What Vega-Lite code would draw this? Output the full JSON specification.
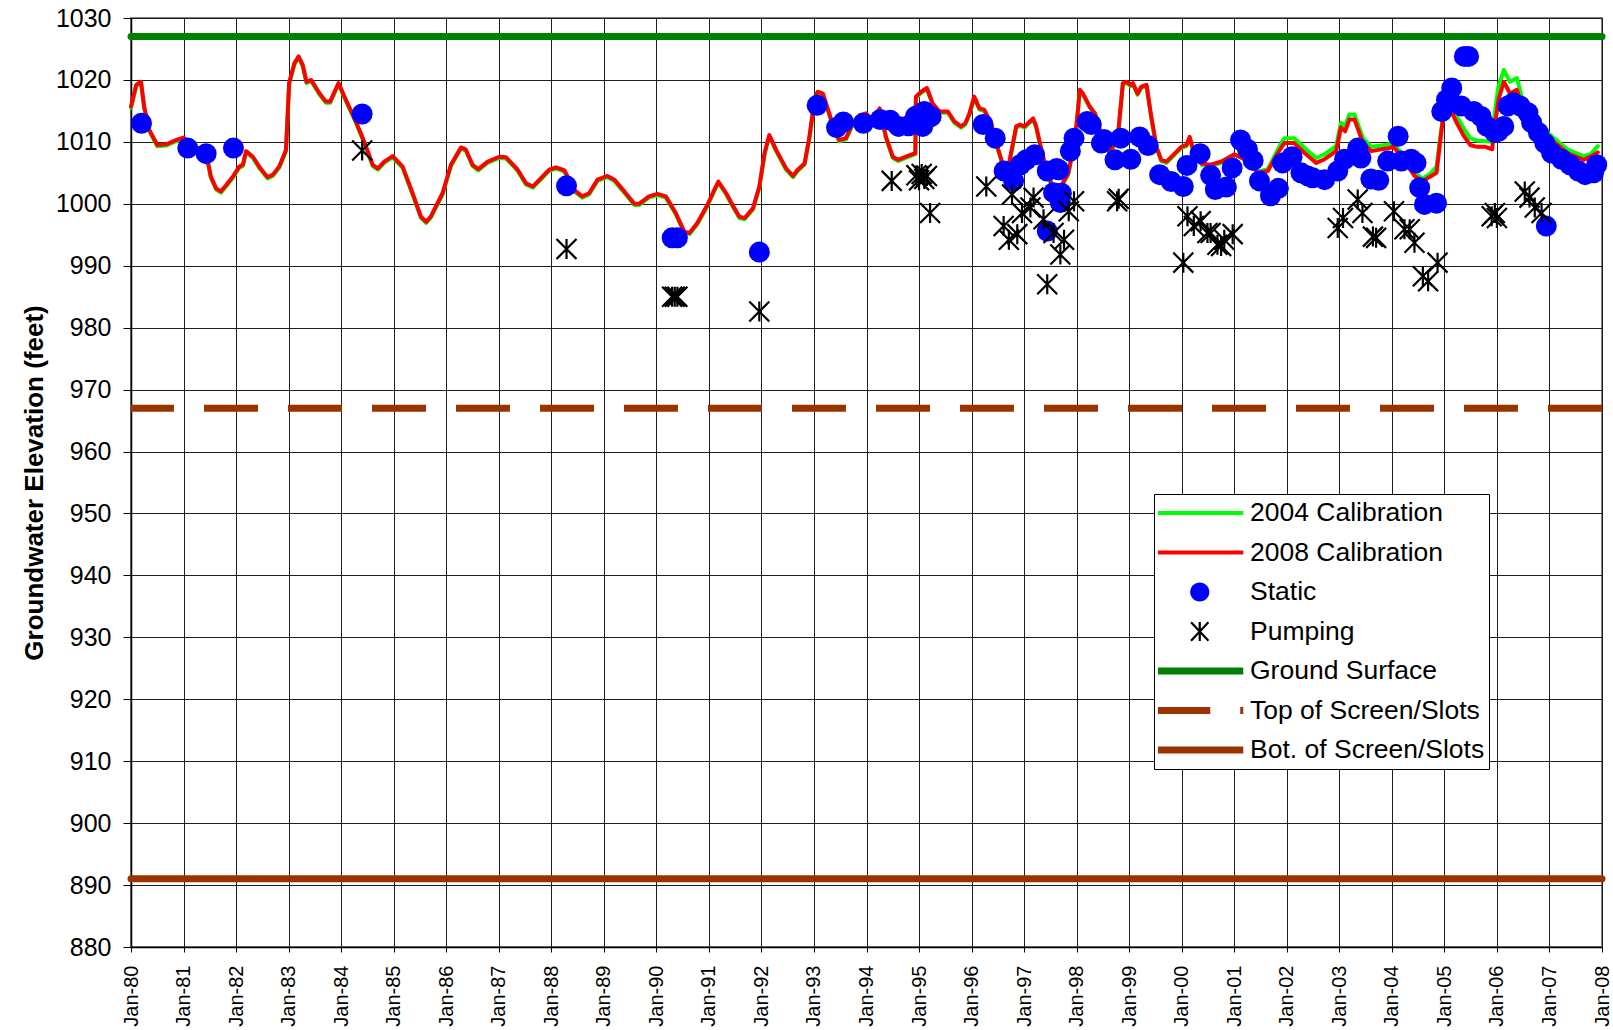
{
  "$schema": "https://vega.github.io/schema/vega-lite/v6.json",
  "width": 1471,
  "height": 929,
  "autosize": {"type": "none"},
  "padding": {"left": 131, "top": 18, "right": 11, "bottom": 83},
  "background": "white",
  "config": {
    "font": "Liberation Sans",
    "view": {"stroke": "#808080", "strokeWidth": 2},
    "axis": {
      "labelColor": "black", "titleColor": "black", "domainColor": "black", "domainWidth": 1.5,
      "tickColor": "black", "gridColor": "#1e1e1e", "gridOpacity": 1, "gridWidth": 1,
      "labelFont": "Liberation Sans", "titleFont": "Liberation Sans"
    }
  },
  "datasets": {
    "cal": [
      {"t":1980.00,"2004 Calibration":1015.5,"2008 Calibration":1015.7},
      {"t":1980.10,"2004 Calibration":1019.0,"2008 Calibration":1019.2},
      {"t":1980.19,"2004 Calibration":1019.5,"2008 Calibration":1019.7},
      {"t":1980.25,"2004 Calibration":1015.5,"2008 Calibration":1015.7},
      {"t":1980.35,"2004 Calibration":1011.7,"2008 Calibration":1011.9},
      {"t":1980.50,"2004 Calibration":1009.3,"2008 Calibration":1009.5},
      {"t":1980.67,"2004 Calibration":1009.4,"2008 Calibration":1009.6},
      {"t":1980.86,"2004 Calibration":1010.1,"2008 Calibration":1010.3},
      {"t":1981.00,"2004 Calibration":1010.5,"2008 Calibration":1010.7},
      {"t":1981.17,"2004 Calibration":1009.3,"2008 Calibration":1009.5},
      {"t":1981.43,"2004 Calibration":1008.0,"2008 Calibration":1008.2},
      {"t":1981.52,"2004 Calibration":1004.2,"2008 Calibration":1004.4},
      {"t":1981.62,"2004 Calibration":1002.3,"2008 Calibration":1002.5},
      {"t":1981.71,"2004 Calibration":1001.8,"2008 Calibration":1002.0},
      {"t":1981.81,"2004 Calibration":1002.8,"2008 Calibration":1003.0},
      {"t":1981.94,"2004 Calibration":1004.2,"2008 Calibration":1004.4},
      {"t":1982.06,"2004 Calibration":1005.8,"2008 Calibration":1006.0},
      {"t":1982.13,"2004 Calibration":1006.1,"2008 Calibration":1006.3},
      {"t":1982.19,"2004 Calibration":1008.3,"2008 Calibration":1008.5},
      {"t":1982.32,"2004 Calibration":1007.4,"2008 Calibration":1007.6},
      {"t":1982.44,"2004 Calibration":1005.8,"2008 Calibration":1006.0},
      {"t":1982.60,"2004 Calibration":1004.1,"2008 Calibration":1004.3},
      {"t":1982.70,"2004 Calibration":1004.5,"2008 Calibration":1004.7},
      {"t":1982.82,"2004 Calibration":1005.8,"2008 Calibration":1006.0},
      {"t":1982.95,"2004 Calibration":1008.5,"2008 Calibration":1008.7},
      {"t":1983.01,"2004 Calibration":1019.3,"2008 Calibration":1019.5},
      {"t":1983.11,"2004 Calibration":1022.5,"2008 Calibration":1022.7},
      {"t":1983.19,"2004 Calibration":1023.6,"2008 Calibration":1023.8},
      {"t":1983.27,"2004 Calibration":1022.2,"2008 Calibration":1022.4},
      {"t":1983.34,"2004 Calibration":1019.5,"2008 Calibration":1019.7},
      {"t":1983.43,"2004 Calibration":1019.8,"2008 Calibration":1020.0},
      {"t":1983.59,"2004 Calibration":1017.6,"2008 Calibration":1017.8},
      {"t":1983.71,"2004 Calibration":1016.3,"2008 Calibration":1016.5},
      {"t":1983.79,"2004 Calibration":1016.3,"2008 Calibration":1016.5},
      {"t":1983.95,"2004 Calibration":1019.3,"2008 Calibration":1019.5},
      {"t":1984.09,"2004 Calibration":1016.6,"2008 Calibration":1016.8},
      {"t":1984.28,"2004 Calibration":1013.1,"2008 Calibration":1013.3},
      {"t":1984.44,"2004 Calibration":1009.8,"2008 Calibration":1010.0},
      {"t":1984.60,"2004 Calibration":1006.1,"2008 Calibration":1006.3},
      {"t":1984.70,"2004 Calibration":1005.5,"2008 Calibration":1005.7},
      {"t":1984.82,"2004 Calibration":1006.6,"2008 Calibration":1006.8},
      {"t":1984.98,"2004 Calibration":1007.5,"2008 Calibration":1007.7},
      {"t":1985.17,"2004 Calibration":1005.8,"2008 Calibration":1006.0},
      {"t":1985.36,"2004 Calibration":1001.5,"2008 Calibration":1001.7},
      {"t":1985.52,"2004 Calibration":997.7,"2008 Calibration":997.9},
      {"t":1985.62,"2004 Calibration":996.9,"2008 Calibration":997.1},
      {"t":1985.71,"2004 Calibration":997.8,"2008 Calibration":998.0},
      {"t":1985.93,"2004 Calibration":1001.5,"2008 Calibration":1001.7},
      {"t":1986.09,"2004 Calibration":1006.1,"2008 Calibration":1006.3},
      {"t":1986.28,"2004 Calibration":1008.9,"2008 Calibration":1009.1},
      {"t":1986.37,"2004 Calibration":1008.6,"2008 Calibration":1008.8},
      {"t":1986.50,"2004 Calibration":1006.1,"2008 Calibration":1006.3},
      {"t":1986.61,"2004 Calibration":1005.4,"2008 Calibration":1005.6},
      {"t":1986.79,"2004 Calibration":1006.6,"2008 Calibration":1006.8},
      {"t":1987.01,"2004 Calibration":1007.4,"2008 Calibration":1007.6},
      {"t":1987.14,"2004 Calibration":1007.3,"2008 Calibration":1007.5},
      {"t":1987.36,"2004 Calibration":1005.3,"2008 Calibration":1005.5},
      {"t":1987.52,"2004 Calibration":1003.1,"2008 Calibration":1003.3},
      {"t":1987.65,"2004 Calibration":1002.6,"2008 Calibration":1002.8},
      {"t":1987.80,"2004 Calibration":1003.9,"2008 Calibration":1004.1},
      {"t":1987.96,"2004 Calibration":1005.3,"2008 Calibration":1005.5},
      {"t":1988.09,"2004 Calibration":1005.7,"2008 Calibration":1005.9},
      {"t":1988.25,"2004 Calibration":1005.2,"2008 Calibration":1005.4},
      {"t":1988.44,"2004 Calibration":1002.0,"2008 Calibration":1002.2},
      {"t":1988.59,"2004 Calibration":1001.0,"2008 Calibration":1001.2},
      {"t":1988.72,"2004 Calibration":1001.5,"2008 Calibration":1001.7},
      {"t":1988.88,"2004 Calibration":1003.7,"2008 Calibration":1003.9},
      {"t":1989.07,"2004 Calibration":1004.3,"2008 Calibration":1004.5},
      {"t":1989.20,"2004 Calibration":1003.7,"2008 Calibration":1003.9},
      {"t":1989.39,"2004 Calibration":1001.8,"2008 Calibration":1002.0},
      {"t":1989.58,"2004 Calibration":999.8,"2008 Calibration":1000.0},
      {"t":1989.67,"2004 Calibration":999.8,"2008 Calibration":1000.0},
      {"t":1989.86,"2004 Calibration":1001.0,"2008 Calibration":1001.2},
      {"t":1990.02,"2004 Calibration":1001.4,"2008 Calibration":1001.6},
      {"t":1990.18,"2004 Calibration":1001.0,"2008 Calibration":1001.2},
      {"t":1990.37,"2004 Calibration":998.3,"2008 Calibration":998.5},
      {"t":1990.53,"2004 Calibration":995.3,"2008 Calibration":995.5},
      {"t":1990.63,"2004 Calibration":995.1,"2008 Calibration":995.3},
      {"t":1990.78,"2004 Calibration":996.7,"2008 Calibration":996.9},
      {"t":1990.97,"2004 Calibration":999.6,"2008 Calibration":999.8},
      {"t":1991.10,"2004 Calibration":1002.0,"2008 Calibration":1002.2},
      {"t":1991.18,"2004 Calibration":1003.4,"2008 Calibration":1003.6},
      {"t":1991.33,"2004 Calibration":1001.5,"2008 Calibration":1001.7},
      {"t":1991.45,"2004 Calibration":999.6,"2008 Calibration":999.8},
      {"t":1991.58,"2004 Calibration":997.7,"2008 Calibration":997.9},
      {"t":1991.68,"2004 Calibration":997.5,"2008 Calibration":997.7},
      {"t":1991.84,"2004 Calibration":999.1,"2008 Calibration":999.3},
      {"t":1991.96,"2004 Calibration":1002.6,"2008 Calibration":1002.8},
      {"t":1992.06,"2004 Calibration":1008.0,"2008 Calibration":1008.2},
      {"t":1992.15,"2004 Calibration":1010.9,"2008 Calibration":1011.1},
      {"t":1992.28,"2004 Calibration":1008.5,"2008 Calibration":1008.7},
      {"t":1992.47,"2004 Calibration":1005.5,"2008 Calibration":1005.7},
      {"t":1992.60,"2004 Calibration":1004.3,"2008 Calibration":1004.5},
      {"t":1992.69,"2004 Calibration":1005.3,"2008 Calibration":1005.5},
      {"t":1992.82,"2004 Calibration":1006.3,"2008 Calibration":1006.5},
      {"t":1992.91,"2004 Calibration":1010.4,"2008 Calibration":1010.6},
      {"t":1993.01,"2004 Calibration":1016.6,"2008 Calibration":1016.8},
      {"t":1993.07,"2004 Calibration":1017.9,"2008 Calibration":1018.1},
      {"t":1993.17,"2004 Calibration":1017.6,"2008 Calibration":1017.8},
      {"t":1993.26,"2004 Calibration":1015.2,"2008 Calibration":1015.4},
      {"t":1993.39,"2004 Calibration":1011.7,"2008 Calibration":1011.9},
      {"t":1993.48,"2004 Calibration":1010.1,"2008 Calibration":1010.3},
      {"t":1993.61,"2004 Calibration":1010.4,"2008 Calibration":1010.6},
      {"t":1993.74,"2004 Calibration":1012.8,"2008 Calibration":1013.0},
      {"t":1993.87,"2004 Calibration":1014.1,"2008 Calibration":1014.3},
      {"t":1993.99,"2004 Calibration":1014.4,"2008 Calibration":1014.6},
      {"t":1994.12,"2004 Calibration":1013.3,"2008 Calibration":1013.5},
      {"t":1994.25,"2004 Calibration":1015.2,"2008 Calibration":1015.4},
      {"t":1994.37,"2004 Calibration":1010.6,"2008 Calibration":1010.8},
      {"t":1994.50,"2004 Calibration":1007.4,"2008 Calibration":1007.6},
      {"t":1994.60,"2004 Calibration":1006.9,"2008 Calibration":1007.1},
      {"t":1994.75,"2004 Calibration":1007.4,"2008 Calibration":1007.6},
      {"t":1994.93,"2004 Calibration":1008.0,"2008 Calibration":1008.2},
      {"t":1994.94,"2004 Calibration":1017.1,"2008 Calibration":1017.3},
      {"t":1995.04,"2004 Calibration":1017.9,"2008 Calibration":1018.1},
      {"t":1995.15,"2004 Calibration":1018.5,"2008 Calibration":1018.7},
      {"t":1995.26,"2004 Calibration":1016.0,"2008 Calibration":1016.2},
      {"t":1995.39,"2004 Calibration":1014.7,"2008 Calibration":1014.9},
      {"t":1995.55,"2004 Calibration":1014.7,"2008 Calibration":1014.9},
      {"t":1995.67,"2004 Calibration":1013.1,"2008 Calibration":1013.3},
      {"t":1995.80,"2004 Calibration":1012.3,"2008 Calibration":1012.5},
      {"t":1995.88,"2004 Calibration":1012.8,"2008 Calibration":1013.0},
      {"t":1995.96,"2004 Calibration":1014.4,"2008 Calibration":1014.6},
      {"t":1996.05,"2004 Calibration":1017.1,"2008 Calibration":1017.3},
      {"t":1996.15,"2004 Calibration":1015.2,"2008 Calibration":1015.4},
      {"t":1996.24,"2004 Calibration":1015.0,"2008 Calibration":1015.2},
      {"t":1996.37,"2004 Calibration":1012.8,"2008 Calibration":1013.0},
      {"t":1996.47,"2004 Calibration":1009.6,"2008 Calibration":1009.8},
      {"t":1996.59,"2004 Calibration":1006.3,"2008 Calibration":1006.5},
      {"t":1996.72,"2004 Calibration":1006.6,"2008 Calibration":1006.8},
      {"t":1996.85,"2004 Calibration":1012.3,"2008 Calibration":1012.5},
      {"t":1996.92,"2004 Calibration":1012.6,"2008 Calibration":1012.8},
      {"t":1997.01,"2004 Calibration":1012.3,"2008 Calibration":1012.5},
      {"t":1997.11,"2004 Calibration":1013.1,"2008 Calibration":1013.3},
      {"t":1997.17,"2004 Calibration":1013.6,"2008 Calibration":1013.8},
      {"t":1997.23,"2004 Calibration":1012.3,"2008 Calibration":1012.5},
      {"t":1997.33,"2004 Calibration":1008.5,"2008 Calibration":1008.7},
      {"t":1997.46,"2004 Calibration":1004.2,"2008 Calibration":1004.4},
      {"t":1997.55,"2004 Calibration":1002.6,"2008 Calibration":1002.8},
      {"t":1997.71,"2004 Calibration":1002.8,"2008 Calibration":1003.0},
      {"t":1997.84,"2004 Calibration":1004.7,"2008 Calibration":1004.9},
      {"t":1997.93,"2004 Calibration":1008.5,"2008 Calibration":1008.7},
      {"t":1998.00,"2004 Calibration":1012.8,"2008 Calibration":1013.0},
      {"t":1998.06,"2004 Calibration":1018.2,"2008 Calibration":1018.4},
      {"t":1998.12,"2004 Calibration":1017.6,"2008 Calibration":1017.8},
      {"t":1998.25,"2004 Calibration":1015.5,"2008 Calibration":1015.7},
      {"t":1998.35,"2004 Calibration":1014.4,"2008 Calibration":1014.6},
      {"t":1998.47,"2004 Calibration":1010.9,"2008 Calibration":1011.1},
      {"t":1998.60,"2004 Calibration":1008.5,"2008 Calibration":1008.7},
      {"t":1998.69,"2004 Calibration":1009.0,"2008 Calibration":1009.2},
      {"t":1998.79,"2004 Calibration":1011.2,"2008 Calibration":1011.4},
      {"t":1998.88,"2004 Calibration":1019.3,"2008 Calibration":1019.5},
      {"t":1998.95,"2004 Calibration":1019.5,"2008 Calibration":1019.7},
      {"t":1999.03,"2004 Calibration":1019.0,"2008 Calibration":1019.2},
      {"t":1999.07,"2004 Calibration":1019.3,"2008 Calibration":1019.5},
      {"t":1999.16,"2004 Calibration":1017.6,"2008 Calibration":1017.8},
      {"t":1999.23,"2004 Calibration":1018.7,"2008 Calibration":1018.9},
      {"t":1999.33,"2004 Calibration":1019.0,"2008 Calibration":1019.2},
      {"t":1999.42,"2004 Calibration":1013.9,"2008 Calibration":1014.1},
      {"t":1999.52,"2004 Calibration":1009.0,"2008 Calibration":1009.2},
      {"t":1999.61,"2004 Calibration":1006.9,"2008 Calibration":1007.1},
      {"t":1999.71,"2004 Calibration":1006.6,"2008 Calibration":1006.8},
      {"t":1999.84,"2004 Calibration":1007.7,"2008 Calibration":1007.9},
      {"t":1999.99,"2004 Calibration":1009.0,"2008 Calibration":1009.2},
      {"t":2000.09,"2004 Calibration":1009.3,"2008 Calibration":1009.5},
      {"t":2000.15,"2004 Calibration":1010.6,"2008 Calibration":1010.8},
      {"t":2000.22,"2004 Calibration":1008.5,"2008 Calibration":1008.7},
      {"t":2000.38,"2004 Calibration":1006.3,"2008 Calibration":1006.5},
      {"t":2000.55,"2004 Calibration":1006.1,"2008 Calibration":1006.3},
      {"t":2000.75,"2004 Calibration":1006.6,"2008 Calibration":1006.8},
      {"t":2001.00,"2004 Calibration":1007.9,"2008 Calibration":1008.0},
      {"t":2001.25,"2004 Calibration":1007.0,"2008 Calibration":1007.0},
      {"t":2001.45,"2004 Calibration":1005.2,"2008 Calibration":1005.0},
      {"t":2001.64,"2004 Calibration":1005.6,"2008 Calibration":1005.3},
      {"t":2001.83,"2004 Calibration":1008.8,"2008 Calibration":1008.2},
      {"t":2001.95,"2004 Calibration":1010.6,"2008 Calibration":1009.8},
      {"t":2002.14,"2004 Calibration":1010.6,"2008 Calibration":1009.8},
      {"t":2002.34,"2004 Calibration":1009.0,"2008 Calibration":1008.2},
      {"t":2002.56,"2004 Calibration":1007.4,"2008 Calibration":1006.6},
      {"t":2002.72,"2004 Calibration":1008.0,"2008 Calibration":1007.2},
      {"t":2002.94,"2004 Calibration":1009.3,"2008 Calibration":1008.5},
      {"t":2003.03,"2004 Calibration":1013.1,"2008 Calibration":1012.3},
      {"t":2003.11,"2004 Calibration":1012.6,"2008 Calibration":1011.7},
      {"t":2003.19,"2004 Calibration":1014.4,"2008 Calibration":1013.6},
      {"t":2003.29,"2004 Calibration":1014.4,"2008 Calibration":1013.6},
      {"t":2003.45,"2004 Calibration":1010.6,"2008 Calibration":1009.8},
      {"t":2003.61,"2004 Calibration":1009.2,"2008 Calibration":1008.5},
      {"t":2003.80,"2004 Calibration":1009.4,"2008 Calibration":1008.8},
      {"t":2003.96,"2004 Calibration":1009.6,"2008 Calibration":1009.0},
      {"t":2004.02,"2004 Calibration":1009.8,"2008 Calibration":1009.3},
      {"t":2004.18,"2004 Calibration":1008.2,"2008 Calibration":1007.7},
      {"t":2004.43,"2004 Calibration":1004.9,"2008 Calibration":1004.5},
      {"t":2004.59,"2004 Calibration":1004.1,"2008 Calibration":1003.7},
      {"t":2004.75,"2004 Calibration":1005.0,"2008 Calibration":1004.5},
      {"t":2004.85,"2004 Calibration":1006.0,"2008 Calibration":1005.0},
      {"t":2004.94,"2004 Calibration":1012.0,"2008 Calibration":1011.5},
      {"t":2004.99,"2004 Calibration":1015.0,"2008 Calibration":1014.7},
      {"t":2005.10,"2004 Calibration":1015.8,"2008 Calibration":1015.5},
      {"t":2005.24,"2004 Calibration":1014.0,"2008 Calibration":1013.0},
      {"t":2005.36,"2004 Calibration":1012.3,"2008 Calibration":1011.1},
      {"t":2005.49,"2004 Calibration":1010.6,"2008 Calibration":1009.5},
      {"t":2005.62,"2004 Calibration":1010.2,"2008 Calibration":1009.2},
      {"t":2005.78,"2004 Calibration":1010.1,"2008 Calibration":1009.2},
      {"t":2005.91,"2004 Calibration":1010.0,"2008 Calibration":1008.8},
      {"t":2005.94,"2004 Calibration":1013.5,"2008 Calibration":1011.4},
      {"t":2006.03,"2004 Calibration":1019.0,"2008 Calibration":1016.8},
      {"t":2006.13,"2004 Calibration":1021.6,"2008 Calibration":1019.7},
      {"t":2006.25,"2004 Calibration":1019.7,"2008 Calibration":1017.8},
      {"t":2006.38,"2004 Calibration":1020.3,"2008 Calibration":1018.4},
      {"t":2006.48,"2004 Calibration":1017.0,"2008 Calibration":1015.7},
      {"t":2006.60,"2004 Calibration":1015.0,"2008 Calibration":1014.0},
      {"t":2006.83,"2004 Calibration":1012.6,"2008 Calibration":1011.9},
      {"t":2007.08,"2004 Calibration":1010.6,"2008 Calibration":1010.0},
      {"t":2007.34,"2004 Calibration":1008.8,"2008 Calibration":1008.2},
      {"t":2007.65,"2004 Calibration":1007.7,"2008 Calibration":1007.1},
      {"t":2007.78,"2004 Calibration":1008.0,"2008 Calibration":1007.6},
      {"t":2007.92,"2004 Calibration":1009.3,"2008 Calibration":1008.3}
    ],
    "static": [
      {"t":1980.20,"value":1013.0},{"t":1981.08,"value":1009.0},{"t":1981.43,"value":1008.1},{"t":1981.95,"value":1009.0},
      {"t":1984.40,"value":1014.5},{"t":1988.29,"value":1002.9},{"t":1990.30,"value":994.5},{"t":1990.40,"value":994.5},
      {"t":1991.96,"value":992.2},{"t":1993.06,"value":1015.9},{"t":1993.43,"value":1012.3},{"t":1993.56,"value":1013.2},
      {"t":1993.94,"value":1013.0},{"t":1994.26,"value":1013.6},{"t":1994.45,"value":1013.5},{"t":1994.61,"value":1012.5},
      {"t":1994.80,"value":1012.6},{"t":1994.93,"value":1014.1},{"t":1994.98,"value":1014.3},{"t":1995.02,"value":1012.8},
      {"t":1995.07,"value":1012.5},{"t":1995.10,"value":1014.9},{"t":1995.18,"value":1013.9},{"t":1995.23,"value":1014.1},
      {"t":1996.22,"value":1012.8},{"t":1996.45,"value":1010.6},{"t":1996.62,"value":1005.3},{"t":1996.80,"value":1003.7},
      {"t":1996.93,"value":1006.3},{"t":1997.04,"value":1007.1},{"t":1997.20,"value":1007.9},{"t":1997.44,"value":1005.3},
      {"t":1997.62,"value":1005.7},{"t":1997.66,"value":1005.5},{"t":1997.56,"value":1001.8},{"t":1997.69,"value":1000.2},
      {"t":1997.71,"value":1001.7},{"t":1997.44,"value":995.6},{"t":1997.88,"value":1008.5},{"t":1997.95,"value":1010.6},
      {"t":1998.20,"value":1013.3},{"t":1998.28,"value":1012.8},{"t":1998.47,"value":1009.8},{"t":1998.52,"value":1010.4},
      {"t":1998.73,"value":1007.1},{"t":1998.84,"value":1010.6},{"t":1999.03,"value":1007.2},{"t":1999.20,"value":1010.8},
      {"t":1999.36,"value":1009.4},{"t":1999.58,"value":1004.7},{"t":1999.80,"value":1003.6},{"t":2000.03,"value":1002.8},
      {"t":2000.10,"value":1006.2},{"t":2000.35,"value":1008.1},{"t":2000.55,"value":1004.6},{"t":2000.64,"value":1002.3},
      {"t":2000.85,"value":1002.7},{"t":2000.96,"value":1005.8},{"t":2001.12,"value":1010.3},{"t":2001.25,"value":1008.8},
      {"t":2001.36,"value":1007.0},{"t":2001.48,"value":1003.7},{"t":2001.69,"value":1001.3},{"t":2001.84,"value":1002.5},
      {"t":2001.92,"value":1006.6},{"t":2002.10,"value":1007.6},{"t":2002.27,"value":1005.0},{"t":2002.40,"value":1004.5},
      {"t":2002.49,"value":1004.2},{"t":2002.72,"value":1003.9},{"t":2002.97,"value":1005.3},{"t":2003.10,"value":1007.2},
      {"t":2003.35,"value":1009.0},{"t":2003.41,"value":1007.4},{"t":2003.60,"value":1004.0},{"t":2003.75,"value":1003.8},
      {"t":2003.92,"value":1006.9},{"t":2004.12,"value":1010.9},{"t":2004.18,"value":1006.9},{"t":2004.37,"value":1007.2},
      {"t":2004.46,"value":1006.6},{"t":2004.53,"value":1002.6},{"t":2004.62,"value":999.9},{"t":2004.85,"value":1000.1},
      {"t":2004.95,"value":1014.9},{"t":2005.04,"value":1016.8},{"t":2005.14,"value":1018.7},{"t":2005.38,"value":1023.8},
      {"t":2005.46,"value":1023.8},{"t":2005.32,"value":1015.8},{"t":2005.56,"value":1014.9},{"t":2005.70,"value":1014.1},
      {"t":2005.81,"value":1012.5},{"t":2005.96,"value":1011.5},{"t":2006.03,"value":1011.7},{"t":2006.13,"value":1012.5},
      {"t":2006.21,"value":1015.8},{"t":2006.31,"value":1016.3},{"t":2006.44,"value":1015.8},{"t":2006.59,"value":1014.7},
      {"t":2006.66,"value":1013.1},{"t":2006.79,"value":1011.5},{"t":2006.91,"value":1009.8},{"t":2006.94,"value":996.4},
      {"t":2007.04,"value":1008.2},{"t":2007.23,"value":1007.2},{"t":2007.39,"value":1006.3},{"t":2007.55,"value":1005.3},
      {"t":2007.68,"value":1004.7},{"t":2007.84,"value":1005.0},{"t":2007.90,"value":1006.3}
    ],
    "pump": [
      {"t":1984.40,"value":1008.6},{"t":1988.29,"value":992.7},{"t":1990.30,"value":985.0},{"t":1990.35,"value":985.0},
      {"t":1990.40,"value":985.0},{"t":1991.96,"value":982.6},{"t":1994.48,"value":1003.7},{"t":1994.95,"value":1004.6},
      {"t":1995.00,"value":1003.8},{"t":1995.05,"value":1004.8},{"t":1995.10,"value":1004.0},{"t":1995.15,"value":1004.5},
      {"t":1995.21,"value":998.5},{"t":1996.28,"value":1002.8},{"t":1996.61,"value":996.4},{"t":1996.71,"value":994.2},
      {"t":1996.77,"value":1001.5},{"t":1996.87,"value":995.1},{"t":1996.96,"value":998.5},{"t":1997.12,"value":999.4},
      {"t":1997.18,"value":1001.0},{"t":1997.37,"value":997.5},{"t":1997.44,"value":987.0},{"t":1997.56,"value":995.3},
      {"t":1997.69,"value":991.8},{"t":1997.76,"value":994.2},{"t":1997.85,"value":998.8},{"t":1997.95,"value":1000.4},
      {"t":1998.77,"value":1000.4},{"t":1998.80,"value":1000.8},{"t":2000.03,"value":990.5},{"t":2000.11,"value":998.0},
      {"t":2000.23,"value":996.4},{"t":2000.36,"value":997.2},{"t":2000.49,"value":995.3},{"t":2000.55,"value":995.3},
      {"t":2000.68,"value":993.4},{"t":2000.75,"value":993.2},{"t":2000.81,"value":994.2},{"t":2000.97,"value":995.1},
      {"t":2002.97,"value":996.1},{"t":2003.07,"value":997.7},{"t":2003.35,"value":1000.7},{"t":2003.44,"value":998.5},
      {"t":2003.64,"value":994.7},{"t":2003.70,"value":994.5},{"t":2004.04,"value":998.8},{"t":2004.24,"value":995.9},
      {"t":2004.34,"value":995.9},{"t":2004.43,"value":993.7},{"t":2004.59,"value":988.3},{"t":2004.69,"value":987.5},
      {"t":2004.87,"value":990.5},{"t":2005.90,"value":998.0},{"t":2005.96,"value":998.5},{"t":2006.00,"value":997.7},
      {"t":2006.53,"value":1002.0},{"t":2006.62,"value":1001.0},{"t":2006.72,"value":999.4},{"t":2006.85,"value":998.5}
    ],
    "levels": [
      {"series":"Ground Surface","value":1027},
      {"series":"Bot. of Screen/Slots","value":891}
    ],
    "top": [
      {"series":"Top of Screen/Slots","value":967}
    ]
  },
  "layer": [
    {
      "data": {"name": "cal"},
      "transform": [{"fold": ["2004 Calibration", "2008 Calibration"], "as": ["series", "value"]}],
      "mark": {"type": "line", "strokeWidth": 4, "strokeJoin": "round", "strokeCap": "round"},
      "encoding": {
        "x": {"field": "t", "type": "quantitative",
          "scale": {"domain": [1980, 2008], "nice": false, "zero": false},
          "axis": {"values": [1980,1981,1982,1983,1984,1985,1986,1987,1988,1989,1990,1991,1992,1993,1994,1995,1996,1997,1998,1999,2000,2001,2002,2003,2004,2005,2006,2007,2008],
            "labelExpr": "'Jan-' + substring(toString(datum.value), 2, 4)",
            "labelAngle": -90, "labelAlign": "right", "labelBaseline": "middle", "labelFontSize": 20,
            "tickSize": 5, "labelPadding": 13, "grid": true, "title": null, "labelOverlap": false, "labelFlush": false}},
        "y": {"field": "value", "type": "quantitative",
          "scale": {"domain": [880, 1030], "nice": false, "zero": false},
          "axis": {"values": [880,890,900,910,920,930,940,950,960,970,980,990,1000,1010,1020,1030],
            "format": "d",
            "labelFontSize": 25, "tickSize": 8, "labelPadding": 12, "grid": true,
            "title": "Groundwater Elevation (feet)", "titleFontSize": 26, "titleFontWeight": "bold", "titlePadding": 8,
            "labelFlush": false, "labelOverlap": false}},
        "color": {"field": "series", "type": "nominal",
          "scale": {"domain": ["2004 Calibration","2008 Calibration","Static","Pumping","Ground Surface","Top of Screen/Slots","Bot. of Screen/Slots"],
                    "range": ["#00FF00","#FF0000","#0000FF","#000000","#008000","#993300","#993300"]},
          "legend": {
            "title": null, "orient": "none", "legendX": 1023, "legendY": 476, "direction": "vertical",
            "padding": 4, "rowPadding": 9.5, "clipHeight": 30, "symbolSize": 7569, "symbolOffset": 28.5,
            "labelFontSize": 26.5, "labelFont": "Liberation Sans", "labelColor": "black", "labelOffset": 37, "labelLimit": 400,
            "strokeColor": "black", "fillColor": "white", "cornerRadius": 0, "symbolOpacity": 1,
            "symbolType": {"expr": "datum.value === 'Static' ? 'M0.22,0C0.22,0.1215,0.1215,0.22,0,0.22C-0.1215,0.22,-0.22,0.1215,-0.22,0C-0.22,-0.1215,-0.1215,-0.22,0,-0.22C0.1215,-0.22,0.22,-0.1215,0.22,0Z' : datum.value === 'Pumping' ? 'M-0.2,-0.21L0.2,0.21M-0.2,0.21L0.2,-0.21M0,-0.22L0,0.22' : 'M-1,0L1,0'"},
            "symbolFillColor": {"expr": "datum.value === 'Static' ? '#0000FF' : 'transparent'"},
            "symbolStrokeColor": {"expr": "scale('color', datum.value)"},
            "symbolStrokeWidth": {"expr": "datum.value === 'Static' ? 0 : datum.value === 'Pumping' ? 2.2 : (datum.value === 'Ground Surface' || datum.value === 'Top of Screen/Slots' || datum.value === 'Bot. of Screen/Slots') ? 7 : 4"},
            "symbolDash": {"expr": "datum.value === 'Top of Screen/Slots' ? [54, 30] : []"}
          }
        }
      }
    },
    {
      "data": {"name": "static"},
      "transform": [{"calculate": "'Static'", "as": "series"}],
      "mark": {"type": "point", "shape": "circle", "filled": true, "size": 441, "opacity": 1},
      "encoding": {
        "x": {"field": "t", "type": "quantitative"},
        "y": {"field": "value", "type": "quantitative"},
        "color": {"field": "series", "type": "nominal", "legend": null}
      }
    },
    {
      "data": {"name": "pump"},
      "transform": [{"calculate": "'Pumping'", "as": "series"}],
      "mark": {"type": "point", "shape": "M-1,-1L1,1M-1,1L1,-1M0,-1L0,1", "filled": false, "size": 400, "strokeWidth": 2.2, "opacity": 1},
      "encoding": {
        "x": {"field": "t", "type": "quantitative"},
        "y": {"field": "value", "type": "quantitative"},
        "color": {"field": "series", "type": "nominal", "legend": null}
      }
    },
    {
      "data": {"name": "levels"},
      "mark": {"type": "rule", "strokeWidth": 7, "strokeCap": "round"},
      "encoding": {
        "y": {"field": "value", "type": "quantitative"},
        "color": {"field": "series", "type": "nominal", "legend": null}
      }
    },
    {
      "data": {"name": "top"},
      "mark": {"type": "rule", "strokeWidth": 7, "strokeCap": "butt", "strokeDash": [54, 30]},
      "encoding": {
        "y": {"field": "value", "type": "quantitative"},
        "color": {"field": "series", "type": "nominal", "legend": null}
      }
    }
  ]
}
